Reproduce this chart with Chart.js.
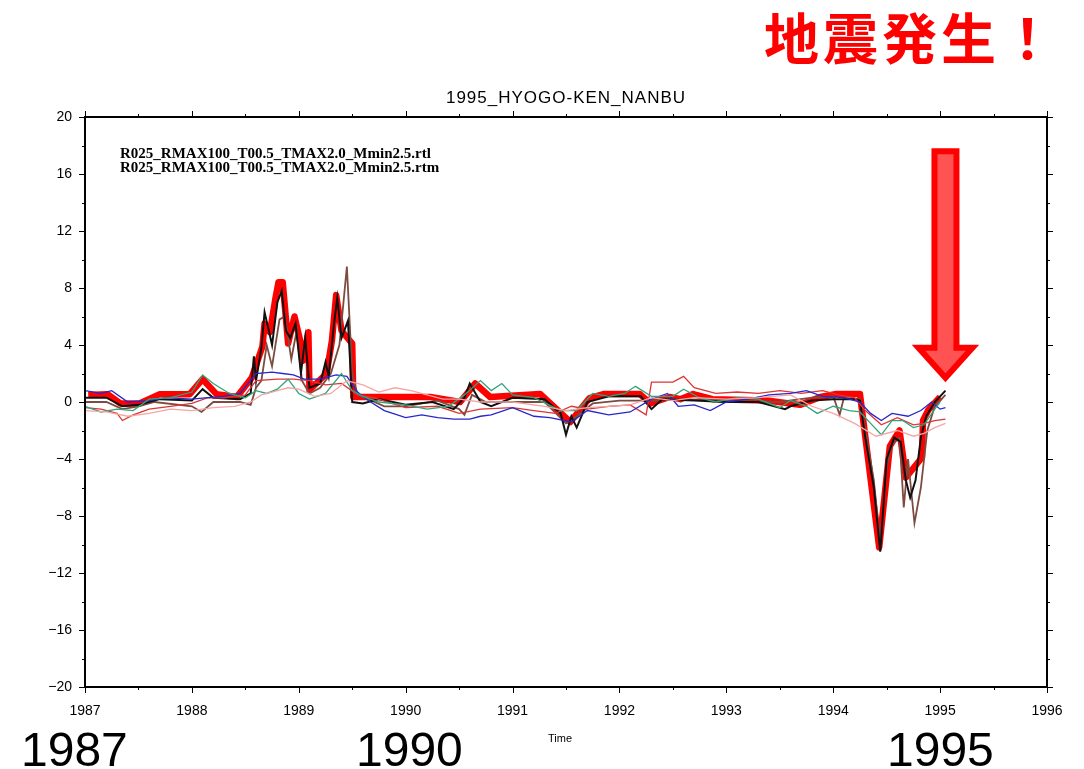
<!DOCTYPE html>
<html>
<head>
<meta charset="utf-8">
<script src="https://cdn.jsdelivr.net/npm/chart.js@4.4.1/dist/chart.umd.min.js"></script>
<style>
  html, body { margin:0; padding:0; background:#fff; }
  #wrap { position:relative; width:1084px; height:769px; overflow:hidden; }
  canvas { position:absolute; left:0; top:0; }
  .ov { position:absolute; white-space:nowrap; }
  #quake { left:764px; top:-5px; font-family:"Noto Sans CJK JP"; font-weight:bold; font-size:55px; color:#ff0000; letter-spacing:4px; }
  .big { font-family:"Liberation Sans"; font-size:48px; color:#000; top:722px; }
  #time { left:548px; top:732px; font-family:"Liberation Sans"; font-size:11px; color:#000; }
</style>
</head>
<body>
<div id="wrap">
<canvas id="c" width="1084" height="769"></canvas>
<div class="ov" id="quake">地震発生！</div>
<div class="ov big" style="left:21px;">1987</div>
<div class="ov big" style="left:356px;">1990</div>
<div class="ov big" style="left:887px;">1995</div>
<div class="ov" id="time">Time</div>
</div>
<script>
// ---- data (x in decimal years, y values) ----
const titleText = "1995_HYOGO-KEN_NANBU";
const legendLines = ["R025_RMAX100_T00.5_TMAX2.0_Mmin2.5.rtl", "R025_RMAX100_T00.5_TMAX2.0_Mmin2.5.rtm"];
const yearTicks = [1987, 1988, 1989, 1990, 1991, 1992, 1993, 1994, 1995, 1996];

const thickX = [1987.03,1987.21,1987.33,1987.51,1987.70,1987.98,1988.10,1988.23,1988.42,1988.56,1988.66,1988.68,1988.73,1988.78,1988.81,1988.85,1988.90,1988.96,1989.01,1989.04,1989.09,1989.10,1989.26,1989.31,1989.35,1989.40,1989.50,1989.51,1990.23,1990.51,1990.65,1990.79,1991.26,1991.54,1991.72,1991.85,1992.19,1992.29,1992.47,1992.57,1992.69,1992.87,1993.38,1993.69,1993.88,1994.03,1994.25,1994.43,1994.53,1994.62,1994.68,1994.83,1994.84,1994.89,1995.00];
const thickY = [0.5,0.55,-0.1,-0.1,0.55,0.55,1.6,0.55,0.35,1.7,3.9,5.5,4.9,7.2,8.4,8.4,4.1,6.0,4.4,2.9,4.9,0.84,2.0,4.3,7.5,5.0,4.1,0.35,0.35,0.0,1.3,0.35,0.56,-1.4,0.28,0.56,0.56,-0.1,0.35,0.2,0.56,0.2,0.1,-0.2,0.35,0.56,0.56,-10.2,-3.1,-2.0,-5.3,-3.9,-1.3,-0.56,0.35];

const blackX = [1987.0,1987.2,1987.35,1987.5,1987.7,1988.0,1988.1,1988.2,1988.45,1988.55,1988.58,1988.6,1988.65,1988.68,1988.72,1988.75,1988.8,1988.84,1988.88,1988.92,1988.97,1989.02,1989.06,1989.1,1989.2,1989.25,1989.28,1989.33,1989.36,1989.4,1989.46,1989.5,1989.6,1989.75,1990.0,1990.25,1990.45,1990.55,1990.6,1990.7,1990.8,1991.0,1991.3,1991.45,1991.5,1991.55,1991.6,1991.7,1991.9,1992.2,1992.3,1992.4,1992.7,1993.0,1993.3,1993.55,1993.6,1993.8,1994.0,1994.2,1994.25,1994.3,1994.38,1994.44,1994.5,1994.57,1994.63,1994.68,1994.72,1994.77,1994.82,1994.87,1994.95,1995.05];
const blackY = [0.3,0.3,-0.3,-0.2,0.2,0.1,0.9,0.3,0.2,0.6,3.2,1.5,3.8,6.3,5.0,4.0,7.0,7.8,5.0,4.5,5.5,2.0,4.5,1.0,1.3,2.8,1.8,5.5,7.3,4.5,5.7,0.0,-0.1,0.2,-0.2,0.0,-0.5,0.3,1.3,0.0,-0.3,0.3,0.2,-0.8,-2.3,-1.0,-1.8,0.0,0.4,0.4,-0.5,0.2,0.1,0.0,0.0,-0.5,-0.3,0.1,0.2,0.2,0.1,-2.5,-6.0,-10.5,-4.0,-2.5,-2.8,-5.5,-6.7,-5.5,-2.5,-1.0,0.0,0.8];

const brownX = [1987.0,1987.2,1987.35,1987.5,1987.65,1988.0,1988.09,1988.2,1988.45,1988.55,1988.6,1988.65,1988.7,1988.75,1988.82,1988.87,1988.93,1988.98,1989.03,1989.1,1989.2,1989.3,1989.38,1989.45,1989.5,1989.55,1989.65,1989.8,1990.0,1990.3,1990.5,1990.55,1990.62,1990.75,1991.0,1991.3,1991.5,1991.6,1991.75,1992.0,1992.3,1992.6,1993.0,1993.5,1993.8,1994.0,1994.06,1994.1,1994.25,1994.3,1994.38,1994.44,1994.5,1994.55,1994.62,1994.66,1994.7,1994.76,1994.82,1994.88,1994.95,1995.05];
const brownY = [0.0,0.0,-0.5,-0.3,0.0,-0.3,-0.7,0.0,0.0,-0.2,1.0,1.5,4.0,2.5,5.8,6.0,3.0,5.0,1.5,0.6,1.0,2.0,4.0,9.5,2.0,0.5,0.2,-0.3,-0.3,0.1,-0.5,-0.9,0.5,0.0,0.0,0.0,-1.5,-1.0,-0.1,0.1,0.1,0.2,0.1,0.0,0.3,0.4,-0.9,0.3,0.2,-2.0,-5.5,-10.0,-4.5,-3.0,-2.5,-7.4,-4.0,-8.5,-6.0,-2.0,-0.3,0.5];

const blueX = [1987.0,1987.15,1987.25,1987.4,1987.6,1987.75,1988.0,1988.15,1988.3,1988.45,1988.6,1988.75,1988.85,1988.95,1989.05,1989.2,1989.35,1989.45,1989.55,1989.65,1989.8,1990.0,1990.15,1990.3,1990.45,1990.6,1990.7,1990.8,1991.0,1991.2,1991.35,1991.55,1991.7,1991.9,1992.1,1992.3,1992.45,1992.55,1992.7,1992.85,1993.0,1993.2,1993.4,1993.6,1993.75,1993.9,1994.1,1994.25,1994.35,1994.45,1994.55,1994.7,1994.82,1994.92,1995.0,1995.05];
const blueY = [0.8,0.6,0.8,0.0,0.1,0.3,0.2,0.3,0.4,0.6,2.0,2.1,2.0,1.9,1.6,1.6,1.9,1.8,0.7,0.1,-0.6,-1.1,-0.9,-1.1,-1.2,-1.2,-1.0,-0.9,-0.4,-1.0,-1.1,-1.4,-0.6,-0.9,-0.7,0.2,0.6,-0.3,-0.2,-0.6,0.0,0.2,0.5,0.6,0.8,0.4,0.3,0.0,-0.8,-1.3,-0.8,-1.0,-0.6,0.0,-0.5,-0.4];

const greenX = [1987.0,1987.15,1987.3,1987.45,1987.6,1987.8,1988.0,1988.1,1988.2,1988.35,1988.5,1988.6,1988.7,1988.8,1988.9,1989.0,1989.1,1989.25,1989.4,1989.5,1989.6,1989.75,1990.0,1990.2,1990.4,1990.55,1990.7,1990.8,1990.9,1991.0,1991.2,1991.45,1991.6,1991.75,1991.9,1992.05,1992.15,1992.3,1992.5,1992.6,1992.75,1992.9,1993.1,1993.3,1993.5,1993.6,1993.75,1993.85,1994.0,1994.15,1994.25,1994.35,1994.45,1994.55,1994.65,1994.75,1994.85,1994.95,1995.0];
const greenY = [-0.3,-0.7,-0.5,-0.6,0.2,0.3,0.7,1.9,1.3,0.6,0.3,0.8,0.6,0.9,1.6,0.6,0.2,0.6,2.0,0.8,0.4,0.0,-0.2,-0.5,-0.3,0.5,1.5,0.8,1.3,0.5,0.3,-0.6,-0.6,0.6,0.4,0.6,1.1,0.4,0.4,0.9,0.3,0.0,0.3,0.2,-0.4,0.1,-0.3,-0.8,-0.3,-0.6,-0.7,-1.5,-2.3,-1.3,-1.3,-1.8,-1.6,-0.5,0.0];

const redX = [1987.0,1987.15,1987.3,1987.35,1987.45,1987.6,1987.8,1988.0,1988.15,1988.3,1988.5,1988.6,1988.8,1988.95,1989.1,1989.25,1989.4,1989.55,1989.7,1990.0,1990.3,1990.5,1990.7,1991.0,1991.2,1991.4,1991.55,1991.7,1991.9,1992.1,1992.25,1992.3,1992.5,1992.6,1992.7,1992.9,1993.1,1993.3,1993.5,1993.7,1993.9,1994.05,1994.2,1994.3,1994.45,1994.6,1994.75,1994.85,1994.95,1995.05];
const redY = [-0.4,-0.5,-0.8,-1.3,-0.9,-0.5,-0.3,-0.1,0.3,0.3,0.5,1.5,1.6,1.6,1.5,1.2,1.3,0.5,0.3,-0.4,-0.3,-0.8,-0.5,-0.4,-0.6,-0.8,-0.3,-0.5,-0.3,-0.2,-0.9,1.4,1.4,1.8,1.0,0.6,0.7,0.6,0.8,0.6,0.8,0.5,0.3,-0.6,-1.6,-1.1,-1.6,-1.5,-1.3,-1.2];

const pinkX = [1987.0,1987.2,1987.4,1987.6,1987.8,1988.0,1988.2,1988.4,1988.55,1988.65,1988.8,1988.9,1989.0,1989.15,1989.3,1989.45,1989.6,1989.75,1989.9,1990.05,1990.2,1990.35,1990.5,1990.7,1991.0,1991.3,1991.5,1991.7,1991.9,1992.1,1992.3,1992.5,1992.7,1993.0,1993.3,1993.6,1993.8,1994.0,1994.2,1994.4,1994.6,1994.75,1994.85,1994.95,1995.05];
const pinkY = [-0.6,-0.7,-1.0,-0.8,-0.5,-0.6,-0.4,-0.3,0.0,0.5,0.8,1.0,0.9,0.4,0.6,1.5,1.2,0.7,1.0,0.8,0.5,0.2,0.2,0.0,0.0,-0.3,-0.6,-0.4,-0.3,-0.2,0.3,0.1,0.3,0.2,0.3,0.5,-0.3,-0.8,-1.5,-2.4,-2.0,-2.4,-2.2,-1.8,-1.5];

// arrow anchor (data coords): tip, head base, top of shaft
const arrowX = [1995.05];
const arrowY = [1.7, 3.8, 17.6];

function pts(xs, ys){ return xs.map((v,i)=>({x:v, y:ys[i]})); }
function ds(xs, ys, color, width){
  return { data: pts(xs, ys), borderColor: color, borderWidth: width, pointRadius: 0, tension: 0, fill: false,
           borderJoinStyle: width > 3 ? 'round' : 'miter', borderCapStyle: 'butt' };
}

const overlay = {
  id: 'overlay',
  afterDraw(chart){
    const {ctx, chartArea:a, scales:{x, y}} = chart;
    ctx.save();
    // ticks
    ctx.strokeStyle = '#000'; ctx.lineWidth = 1;
    ctx.beginPath();
    for (let v = yearTicks[0]; v <= yearTicks[yearTicks.length-1] + 1e-9; v += 0.5){
      const px = Math.round(x.getPixelForValue(v)) + 0.5;
      const L = Math.abs(v - Math.round(v)) < 1e-6 ? 6 : 3;
      ctx.moveTo(px, a.top); ctx.lineTo(px, a.top - L);
      ctx.moveTo(px, a.bottom); ctx.lineTo(px, a.bottom + L);
    }
    for (let v = -20; v <= 20; v += 2){
      const py = Math.round(y.getPixelForValue(v)) + 0.5;
      const L = (v % 4 === 0) ? 6 : 3;
      ctx.moveTo(a.left, py); ctx.lineTo(a.left - L, py);
      ctx.moveTo(a.right, py); ctx.lineTo(a.right + L, py);
    }
    ctx.stroke();
    ctx.lineWidth = 2;
    ctx.strokeRect(a.left, a.top, a.right - a.left, a.bottom - a.top);
    // title
    ctx.fillStyle = '#000';
    ctx.font = '17px "Liberation Sans"';
    ctx.letterSpacing = '1px';
    ctx.textAlign = 'center'; ctx.textBaseline = 'alphabetic';
    ctx.fillText(titleText, (a.left + a.right)/2, 103);
    ctx.letterSpacing = '0px';
    // legend text
    ctx.font = 'bold 15px "Liberation Serif"';
    ctx.textAlign = 'left';
    ctx.fillText(legendLines[0], 120, 158);
    ctx.fillText(legendLines[1], 120, 172);
    // arrow
    const cx = x.getPixelForValue(arrowX[0]);
    const tipY = y.getPixelForValue(arrowY[0]);
    const headY = y.getPixelForValue(arrowY[1]);
    const topY = y.getPixelForValue(arrowY[2]);
    const sw = 11, hw = 27;
    ctx.beginPath();
    ctx.moveTo(cx - sw, topY);
    ctx.lineTo(cx + sw, topY);
    ctx.lineTo(cx + sw, headY);
    ctx.lineTo(cx + hw, headY);
    ctx.lineTo(cx, tipY);
    ctx.lineTo(cx - hw, headY);
    ctx.lineTo(cx - sw, headY);
    ctx.closePath();
    ctx.fillStyle = '#ff5252';
    ctx.fill();
    ctx.strokeStyle = '#ff0000';
    ctx.lineWidth = 6;
    ctx.lineJoin = 'miter';
    ctx.stroke();
    ctx.restore();
  }
};

new Chart(document.getElementById('c'), {
  type: 'line',
  data: {
    datasets: [
      ds(pinkX, pinkY, '#f4a6a6', 1.3),
      ds(greenX, greenY, '#2fa57a', 1.3),
      ds(blueX, blueY, '#2727cc', 1.3),
      ds(redX, redY, '#dd3535', 1.3),
      ds(blackX, blackY, '#111111', 2),
      ds(brownX, brownY, '#7d4c40', 1.8),
      ds(thickX, thickY, '#ff0000', 6.5)
    ]
  },
  options: {
    responsive: false,
    animation: false,
    devicePixelRatio: 1,
    layout: { padding: { left: 0, top: 117, right: 37, bottom: 0 } },
    plugins: { legend: { display: false }, tooltip: { enabled: false }, title: { display: false } },
    scales: {
      x: {
        type: 'linear', min: 1987, max: 1996,
        grid: { display: false, drawTicks: false },
        border: { display: false },
        afterFit: s => { s.height = 82; },
        afterBuildTicks: s => { s.ticks = yearTicks.map(v => ({ value: v })); },
        ticks: { padding: 16, color: '#000', font: { family: 'Liberation Sans', size: 14 }, maxRotation: 0, autoSkip: false, callback: v => String(v) }
      },
      y: {
        min: -20, max: 20,
        grid: { display: false, drawTicks: false },
        border: { display: false },
        afterFit: s => { s.width = 85; },
        ticks: { stepSize: 4, padding: 13, color: '#000', font: { family: 'Liberation Sans', size: 14 },
          callback: v => (v < 0 ? '\u2212' + Math.abs(v) : String(v)) }
      }
    }
  },
  plugins: [overlay]
});
</script>
</body>
</html>
